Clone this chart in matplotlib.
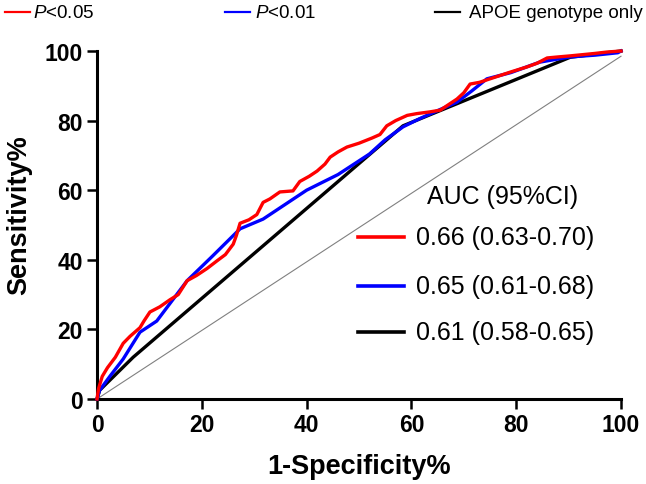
import matplotlib
matplotlib.use("Agg")
import matplotlib.pyplot as plt
from matplotlib.lines import Line2D

plt.rcParams['font.family'] = ['Liberation Sans', 'DejaVu Sans']
plt.rcParams['mathtext.fontset'] = 'custom'
plt.rcParams['mathtext.it'] = 'Liberation Sans:italic'
plt.rcParams['mathtext.rm'] = 'Liberation Sans'

# ---- data ----
red_x = [0, 0.3, 1, 2, 3.5, 5, 6.3, 8.2, 9, 10.1, 12, 13.9, 15.5, 17.2, 19, 21, 22.9, 24.5,
         26, 26.6, 27.3, 29, 30.5, 31.7, 33, 34.9, 37.4, 38.7, 40.5, 42, 43.5, 44.5, 46,
         47.7, 50, 52.5, 54, 55.3, 57, 59.2, 61, 63.5, 65.5, 67, 68.7, 70, 71.2, 73, 75,
         77, 79, 82, 84, 85.9, 88, 90.3, 93, 95, 97.3, 100]
red_y = [0, 3, 6.5, 9, 12, 16, 18, 20.5, 22.5, 25, 26.5, 28.5, 30, 34, 35.5, 37.5, 39.7, 41.5,
         44.5, 47, 50.5, 51.5, 53, 56.5, 57.5, 59.5, 59.8, 62.5, 64, 65.5, 67.5, 69.5, 71,
         72.4, 73.5, 75, 76, 78.5, 80, 81.5, 82, 82.5, 83, 84.5, 86.2, 88, 90.5, 91, 92,
         93, 94, 95.4, 96.5, 98, 98.3, 98.6, 99, 99.3, 99.7, 100]

blue_x = [0, 0.5, 2.5, 5, 8.2, 11.4, 17.2, 22, 27.3, 31.7, 40, 46, 52, 55, 58.4, 61.5,
          64.9, 68.7, 71.5, 74.4, 79, 84.5, 90.3, 95, 99.4, 100]
blue_y = [0, 2.5, 6.6, 11.5, 19.2, 22.4, 34, 41, 48.9, 51.7, 60, 64.5, 70.4, 74.5, 78.2, 80.5,
          82.8, 85.3, 88.5, 92, 93.8, 96.8, 98.3, 98.8, 99.5, 100]

black_x = [0, 0.5, 6.9, 58.4, 90.3, 100]
black_y = [0, 2.5, 12, 78.5, 98.2, 100]

ref_x = [0, 100]
ref_y = [0, 98.5]

legend_labels = ['$P$<0.05', '$P$<0.01', 'APOE genotype only']
auc_title = 'AUC (95%CI)'
auc_labels = ['0.66 (0.63-0.70)', '0.65 (0.61-0.68)', '0.61 (0.58-0.65)']
colors = ['#ff0000', '#0000ff', '#000000']

W, H = 646, 485
fig = plt.figure(figsize=(W / 100, H / 100), dpi=100)

def fx(px):
    return px / W

def fy(py):
    return 1 - py / H

ax = fig.add_axes([fx(97), fy(400), fx(621) - fx(97), fy(52) - fy(400)])

ax.plot(ref_x, ref_y, color='#808080', lw=0.8, clip_on=False, zorder=1)
ax.plot(black_x, black_y, color=colors[2], lw=2.4, clip_on=False, zorder=2)
ax.plot(blue_x, blue_y, color=colors[1], lw=2.4, clip_on=False, zorder=3)
ax.plot(red_x, red_y, color=colors[0], lw=2.4, clip_on=False, zorder=4)

ax.set_xlim(0, 100)
ax.set_ylim(0, 100)
ax.set_xticks([0, 20, 40, 60, 80, 100])
ax.set_yticks([0, 20, 40, 60, 80, 100])
for s in ['top', 'right']:
    ax.spines[s].set_visible(False)
for s in ['left', 'bottom']:
    ax.spines[s].set_linewidth(2.2)
ax.tick_params(axis='both', direction='out', length=7, width=1.8, pad=3,
               labelsize=16.5)
for lab in ax.get_xticklabels() + ax.get_yticklabels():
    lab.set_fontweight('bold')
ax.set_xlabel('1-Specificity%', fontsize=19.5, fontweight='bold', labelpad=12)
ax.set_ylabel('Sensitivity%', fontsize=19.5, fontweight='bold')
ax.yaxis.set_label_coords(-0.149, 0.532)
ax.yaxis.label.set_verticalalignment('center')

# top legend
leg_line_x = [(5, 30), (225, 250), (435, 460)]
leg_text_x = [33, 255, 469]
for (x0, x1), tx, lab, c in zip(leg_line_x, leg_text_x, legend_labels, colors):
    fig.add_artist(Line2D([fx(x0), fx(x1)], [fy(13), fy(13)], color=c, lw=1.6))
    fig.text(fx(tx), fy(13), lab, fontsize=13.5, va='center', ha='left')

# AUC block
fig.text(fx(427), fy(197), auc_title, fontsize=18, va='center', ha='left')
auc_y = [238, 287, 333]
for yy, lab, c in zip(auc_y, auc_labels, colors):
    fig.add_artist(Line2D([fx(358), fx(404)], [fy(yy), fy(yy)], color=c, lw=2.6))
    fig.text(fx(416), fy(yy), lab, fontsize=18, va='center', ha='left')

fig.savefig('out.png', dpi=100)
